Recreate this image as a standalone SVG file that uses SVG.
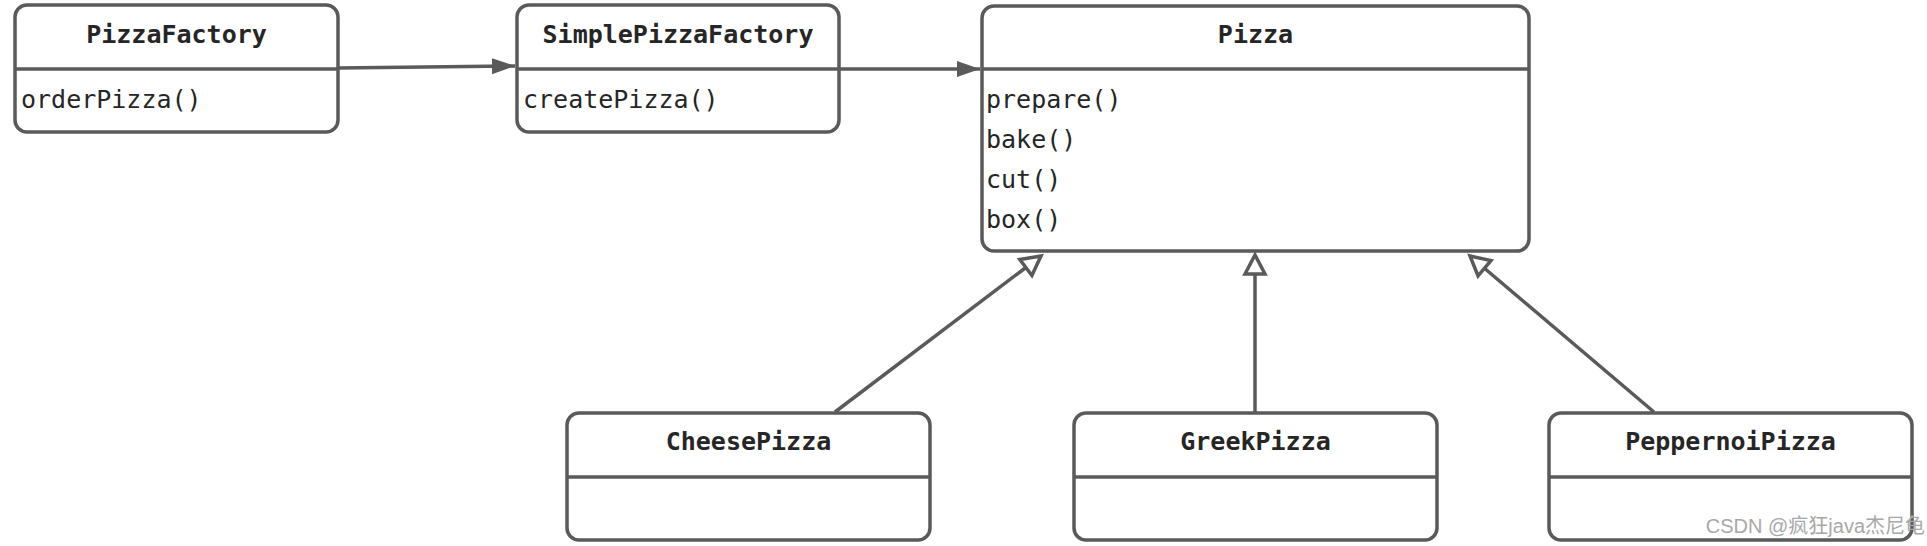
<svg xmlns="http://www.w3.org/2000/svg" width="1927" height="546" viewBox="0 0 1927 546">
<style>
.box{fill:#fff;stroke:#5a5a5a;stroke-width:3.5}
.div{stroke:#5a5a5a;stroke-width:3.5}
.title{font-family:"DejaVu Sans Mono","Liberation Mono",monospace;font-weight:bold;font-size:25px;fill:#262626;text-anchor:middle}
.m{font-family:"DejaVu Sans Mono","Liberation Mono",monospace;font-size:25px;fill:#262626}
.c{stroke:#5a5a5a;stroke-width:3.5;fill:none}
</style>
<defs>
<marker id="filled" markerWidth="24" markerHeight="18" refX="23" refY="9" orient="auto" markerUnits="userSpaceOnUse">
<path d="M0,1 L23,9 L0,17 Z" fill="#5a5a5a"/>
</marker>
<marker id="hollow" markerWidth="26" markerHeight="26" refX="22" refY="13" orient="auto" markerUnits="userSpaceOnUse">
<path d="M3,3 L22,13 L3,23 Z" fill="#fff" stroke="#5a5a5a" stroke-width="3.5" stroke-linejoin="miter"/>
</marker>
</defs>
<rect width="1927" height="546" fill="#fff"/>
<g id="connectors">
<line class="c" x1="338" y1="68" x2="515" y2="66" marker-end="url(#filled)"/>
<line class="c" x1="839" y1="69" x2="980" y2="69" marker-end="url(#filled)"/>
<line class="c" x1="835" y1="412" x2="1041" y2="256" marker-end="url(#hollow)"/>
<line class="c" x1="1255" y1="412" x2="1255" y2="255" marker-end="url(#hollow)"/>
<line class="c" x1="1654" y1="412" x2="1470" y2="256" marker-end="url(#hollow)"/>
</g>
<g id="PizzaFactory">
<rect class="box" x="15" y="5" width="323" height="127" rx="12"/>
<line class="div" x1="15" y1="69" x2="338" y2="69"/>
<text class="title" x="176.5" y="43">PizzaFactory</text>
<text class="m" x="21" y="108">orderPizza()</text>
</g>
<g id="SimplePizzaFactory">
<rect class="box" x="517" y="5" width="322" height="127" rx="12"/>
<line class="div" x1="517" y1="69" x2="839" y2="69"/>
<text class="title" x="678" y="43">SimplePizzaFactory</text>
<text class="m" x="523" y="108">createPizza()</text>
</g>
<g id="Pizza">
<rect class="box" x="982" y="6" width="547" height="245" rx="12"/>
<line class="div" x1="982" y1="69" x2="1529" y2="69"/>
<text class="title" x="1255.5" y="43">Pizza</text>
<text class="m" x="986" y="108">prepare()</text>
<text class="m" x="986" y="148">bake()</text>
<text class="m" x="986" y="188">cut()</text>
<text class="m" x="986" y="228">box()</text>
</g>
<g id="CheesePizza">
<rect class="box" x="567" y="413" width="363" height="127" rx="12"/>
<line class="div" x1="567" y1="477" x2="930" y2="477"/>
<text class="title" x="748.5" y="450">CheesePizza</text>
</g>
<g id="GreekPizza">
<rect class="box" x="1074" y="413" width="363" height="127" rx="12"/>
<line class="div" x1="1074" y1="477" x2="1437" y2="477"/>
<text class="title" x="1255.5" y="450">GreekPizza</text>
</g>
<g id="PeppernoiPizza">
<rect class="box" x="1549" y="413" width="363" height="127" rx="12"/>
<line class="div" x1="1549" y1="477" x2="1912" y2="477"/>
<text class="title" x="1730.5" y="450">PeppernoiPizza</text>
</g>
<text x="1925" y="533" text-anchor="end" font-family="Liberation Sans,'Noto Sans CJK SC',sans-serif" font-size="20" fill="#a8a8a8">CSDN @疯狂java杰尼龟</text>
</svg>
